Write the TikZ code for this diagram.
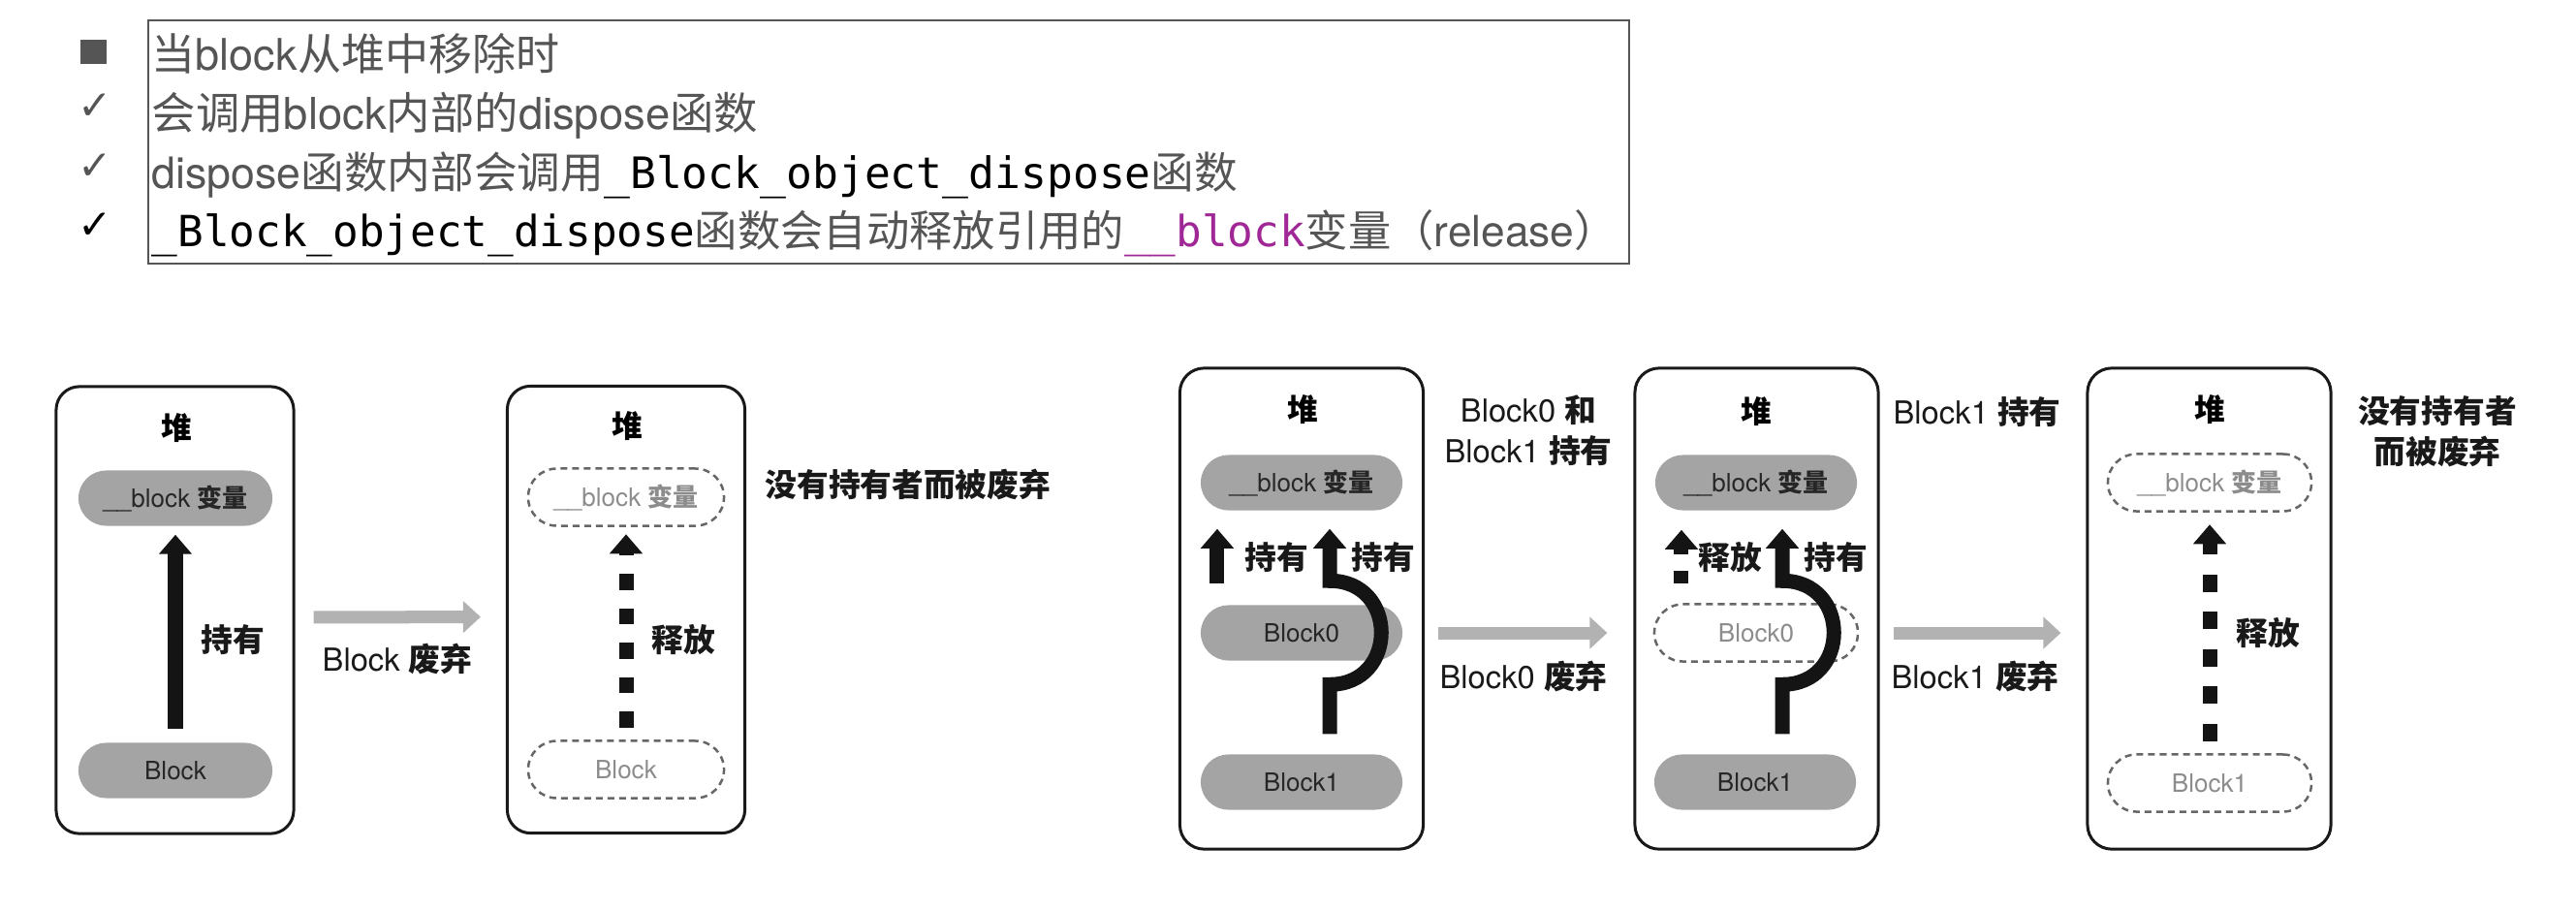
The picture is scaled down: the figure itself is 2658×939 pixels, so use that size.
\documentclass[tikz,border=0pt]{standalone}
\usepackage{fontspec}
\setmainfont{TeX Gyre Heros}
\newfontfamily\cjkfont{Noto Sans CJK SC}
\newfontfamily\monofont{DejaVu Sans Mono}
\newfontfamily\symfont{DejaVu Sans}
\usetikzlibrary{arrows.meta,calc}
\definecolor{txtgray}{HTML}{555555}
\definecolor{mag}{HTML}{A02896}
\definecolor{pillgray}{HTML}{A4A4A4}
\definecolor{ghost}{HTML}{8C8C8C}
\definecolor{dashgray}{HTML}{666666}
\definecolor{arrowgray}{HTML}{B2B2B2}
\newcommand\zh[1]{{\cjkfont #1}}
\newcommand\zhb[1]{{\cjkfont\bfseries #1}}
\newcommand\mo[1]{{\monofont #1}}
\begin{document}
\begin{tikzpicture}[x=0.01cm,y=-0.01cm,
  panelA/.style={draw=black!90, line width=0.03cm, rounded corners=0.24cm, minimum width=2.45cm, minimum height=4.61cm, inner sep=0},
  panelB/.style={draw=black!90, line width=0.03cm, rounded corners=0.25cm, minimum width=2.51cm, minimum height=4.96cm, inner sep=0},
  pill/.style={fill=pillgray, rounded corners=0.285cm, minimum height=0.57cm, inner sep=0, font=\fontsize{7.4}{9}\selectfont, text=black!85},
  ghostpill/.style={draw=dashgray, dash pattern=on 0.07cm off 0.05cm, line width=0.025cm, rounded corners=0.295cm, minimum height=0.59cm, inner sep=0, text=ghost, font=\fontsize{7.4}{9}\selectfont},
  heap/.style={font=\cjkfont\bfseries\fontsize{9}{11}\selectfont, inner sep=0},
  lbl/.style={font=\fontsize{9.3}{12}\selectfont, text=black!90, inner sep=0},
  fat/.style={line width=0.15cm, draw=black!92, -{Triangle[width=0.33cm,length=0.2cm]}},
  garrow/.style={line width=0.13cm, draw=arrowgray, -{Triangle[width=0.32cm,length=0.18cm]}},
  topline/.style={anchor=base west, inner sep=0, text=txtgray},
  tick/.style={font=\symfont\fontsize{12}{14}\selectfont, inner sep=0}
]
\useasboundingbox (0,0) rectangle (2658,939);

% ---------- top text ----------
\node[draw=txtgray, line width=0.02cm, minimum width=15.28cm, minimum height=2.51cm, inner sep=0] (frame) at (917,146.5) {};
\node[fill=txtgray, minimum width=0.27cm, minimum height=0.25cm, inner sep=0] (bul1) at (96.5,53.5) {};
\node[tick, text=txtgray] (chk2) at (98,110) {✓};
\node[tick, text=txtgray] (chk3) at (98,172) {✓};
\node[tick, text=black] (chk4) at (98,233.5) {✓};
\node[topline, font=\fontsize{12.8}{15}\selectfont] (t1) at (156,72) {\zh{当}block\zh{从堆中移除时}};
\node[topline, font=\fontsize{12.9}{15}\selectfont] (t2) at (156,133) {\zh{会调用}block\zh{内部的}dispose\zh{函数}};
\node[topline, font=\fontsize{12.7}{15}\selectfont] (t3) at (156,194) {dispose\zh{函数内部会调用}{\color{black}\mo{\_Block\_object\_dispose}}\zh{函数}};
\node[topline, font=\fontsize{12.6}{15}\selectfont] (t4) at (156,254) {{\color{black}\mo{\_Block\_object\_dispose}}\zh{函数会自动释放引用的}{\color{mag}\mo{\_\_block}}\zh{变量（}release\zh{）}};

% ---------- panel 1 ----------
\node[panelA] (p1) at (180.5,629.5) {};
\node[heap] (h1) at (182,442) {堆};
\node[pill, minimum width=2cm] (v1) at (181,514) {\_\_block \zhb{变量}};
\node[pill, minimum width=2cm] (k1) at (181,795) {Block};
\draw[fat, shorten <=0.135cm, shorten >=0.085cm] (k1) -- (v1);
\node[lbl] (l1) at (240,660) {\zhb{持有}};

% ---------- panel 2 ----------
\node[panelA] (p2) at (646,629) {};
\node[heap] (h2) at (647,440) {堆};
\node[ghostpill, minimum width=2.02cm] (v2) at (646,513) {\_\_block \zhb{变量}};
\node[ghostpill, minimum width=2.02cm] (k2) at (646,794) {Block};
\draw[fat, dash pattern=on 0.165cm off 0.19cm, shorten <=0.125cm, shorten >=0.075cm] (k2) -- (v2);
\node[lbl] (l2) at (705,660) {\zhb{释放}};
\node[lbl, anchor=west] (s2) at (789,500) {\zhb{没有持有者而被废弃}};

\draw[garrow, shorten <=0.19cm, shorten >=0.26cm] ([yshift=-0.075cm]p1.east) -- ([yshift=-0.075cm]p2.west);
\node[lbl] (g1) at (410,680) {Block \zhb{废弃}};

% ---------- panel 3 ----------
\node[panelB] (p3) at (1343,628) {};
\node[heap] (h3) at (1344,423) {堆};
\node[pill, minimum width=2.08cm] (v3) at (1343,498) {\_\_block \zhb{变量}};
\node[pill, minimum width=2.08cm] (b30) at (1343,653) {Block0};
\node[pill, minimum width=2.08cm] (b31) at (1343,807) {Block1};
\draw[fat] ([xshift=-0.87cm,yshift=0.215cm]b30.north) -- ([xshift=-0.87cm,yshift=-0.185cm]v3.south);
\draw[fat] ([xshift=0.29cm,yshift=0.205cm]b31.north) -- ++(0,-51)
   .. controls +(71,0) and +(71,0) .. ++(0,-107)
   -- ([xshift=0.29cm,yshift=-0.185cm]v3.south);
\node[lbl] (l3a) at (1317,575) {\zhb{持有}};
\node[lbl] (l3b) at (1427,575) {\zhb{持有}};
\node[lbl, align=center] (t34) at (1577,444) {Block0 \zhb{和}\\Block1 \zhb{持有}};

% ---------- panel 4 ----------
\node[panelB] (p4) at (1812.5,628) {};
\node[heap] (h4) at (1812,425) {堆};
\node[pill, minimum width=2.08cm] (v4) at (1812,498) {\_\_block \zhb{变量}};
\node[ghostpill, minimum width=2.1cm] (b40) at (1812,653) {Block0};
\node[pill, minimum width=2.08cm] (b41) at (1811,807) {Block1};
\draw[fat, dash pattern=on 0.13cm off 0.17cm on 1cm off 0.1cm] ([xshift=-0.77cm,yshift=0.205cm]b40.north) -- ([xshift=-0.77cm,yshift=-0.195cm]v4.south);
\draw[fat] ([xshift=0.28cm,yshift=0.205cm]b41.north) -- ++(0,-51)
   .. controls +(71,0) and +(71,0) .. ++(0,-107)
   -- ([xshift=0.27cm,yshift=-0.185cm]v4.south);
\node[lbl] (l4a) at (1785,575) {\zhb{释放}};
\node[lbl] (l4b) at (1894,575) {\zhb{持有}};
\node[lbl] (t45) at (2040,425) {Block1 \zhb{持有}};

\draw[garrow, shorten <=0.14cm, shorten >=0.27cm] ([yshift=-0.25cm]p3.east) -- ([yshift=-0.25cm]p4.west);
\node[lbl] (g2) at (1572,698) {Block0 \zhb{废弃}};

% ---------- panel 5 ----------
\node[panelB] (p5) at (2279.5,628) {};
\node[heap] (h5) at (2280,423) {堆};
\node[ghostpill, minimum width=2.1cm] (v5) at (2280,498) {\_\_block \zhb{变量}};
\node[ghostpill, minimum width=2.1cm] (b51) at (2280,808) {Block1};
\draw[fat, dash pattern=on 0.18cm off 0.205cm, shorten <=0.125cm, shorten >=0.125cm] (b51) -- (v5);
\node[lbl] (l5) at (2340,653) {\zhb{释放}};
\node[lbl, align=center] (s5) at (2515,445) {\zhb{没有持有者}\\\zhb{而被废弃}};

\draw[garrow, shorten <=0.14cm, shorten >=0.26cm] ([yshift=-0.25cm]p4.east) -- ([yshift=-0.25cm]p5.west);
\node[lbl] (g3) at (2038,698) {Block1 \zhb{废弃}};
\end{tikzpicture}
\end{document}
